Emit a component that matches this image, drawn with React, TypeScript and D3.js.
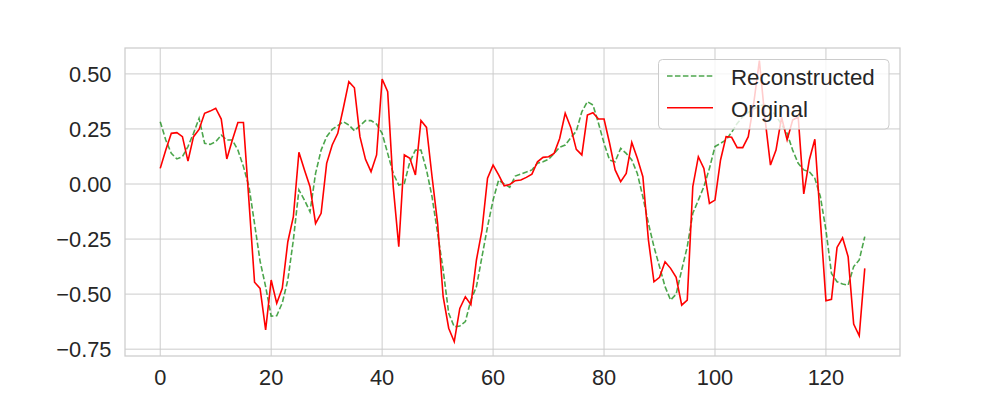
import React from "react";
import * as d3 from "d3";

const original: number[] = [
  0.071, 0.154, 0.23, 0.233, 0.215, 0.104, 0.215, 0.248, 0.321, 0.331,
  0.344, 0.295, 0.114, 0.2, 0.279, 0.279, -0.08, -0.446, -0.474, -0.663,
  -0.436, -0.542, -0.474, -0.262, -0.148, 0.144, 0.064, -0.012, -0.179, -0.133,
  0.094, 0.177, 0.23, 0.344, 0.465, 0.437, 0.215, 0.112, 0.056, 0.132,
  0.477, 0.419, -0.012, -0.285, 0.132, 0.117, 0.041, 0.288, 0.257, 0.033,
  -0.179, -0.512, -0.655, -0.716, -0.565, -0.512, -0.548, -0.345, -0.209, 0.026,
  0.086, 0.041, -0.008, -0.002, 0.015, 0.018, 0.03, 0.045, 0.101, 0.121,
  0.124, 0.139, 0.207, 0.321, 0.257, 0.157, 0.132, 0.313, 0.324, 0.295,
  0.295, 0.185, 0.064, 0.011, 0.048, 0.189, 0.117, 0.033, -0.254, -0.444,
  -0.424, -0.353, -0.383, -0.424, -0.55, -0.527, -0.012, 0.124, 0.071, -0.088,
  -0.073, 0.109, 0.215, 0.212, 0.165, 0.165, 0.215, 0.37, 0.56, 0.3,
  0.086, 0.154, 0.303, 0.2, 0.29, 0.305, -0.045, 0.109, 0.203, -0.165,
  -0.53, -0.524, -0.288, -0.244, -0.33, -0.636, -0.689, -0.383,
];

const reconstructed: number[] = [
  0.283, 0.2, 0.139, 0.114, 0.124, 0.17, 0.23, 0.298, 0.185, 0.18,
  0.192, 0.222, 0.2, 0.2, 0.154, 0.079, -0.012, -0.18, -0.35, -0.466,
  -0.6, -0.598, -0.54, -0.436, -0.254, -0.027, -0.073, -0.126, 0.048, 0.154,
  0.215, 0.248, 0.265, 0.283, 0.268, 0.242, 0.265, 0.288, 0.288, 0.272,
  0.23, 0.139, 0.048, -0.005, 0.003, 0.101, 0.154, 0.154, 0.064, -0.058,
  -0.224, -0.39, -0.587, -0.648, -0.645, -0.625, -0.527, -0.466, -0.33, -0.194,
  -0.073, 0.018, 0.0, -0.015, 0.036, 0.045, 0.054, 0.064, 0.094, 0.101,
  0.112, 0.139, 0.167, 0.177, 0.21, 0.24, 0.328, 0.374, 0.359, 0.276,
  0.185, 0.109, 0.101, 0.162, 0.139, 0.109, 0.048, -0.058, -0.179, -0.285,
  -0.375, -0.466, -0.527, -0.5, -0.39, -0.285, -0.133, -0.073, -0.012, 0.071,
  0.17, 0.185, 0.2, 0.235, 0.275, 0.305, 0.325, 0.34, 0.355, 0.36,
  0.34, 0.31, 0.27, 0.23, 0.154, 0.094, 0.064, 0.056, 0.026, -0.058,
  -0.209, -0.406, -0.444, -0.454, -0.459, -0.375, -0.345, -0.239,
];

const xTicks: number[] = [0, 20, 40, 60, 80, 100, 120];
const yTicks: number[] = [-0.75, -0.5, -0.25, 0, 0.25, 0.5];
const legendLabels: string[] = ["Reconstructed", "Original"];

const W = 1000;
const H = 400;
const left = 125;
const right = 900;
const top = 48;
const bottom = 356;
const FONT = "'Liberation Sans', Arial, sans-serif";
const TICK_FS = 21.8;
const LEG_FS = 22.3;

export default function App() {
  const n = original.length;
  const xs = d3.scaleLinear().domain([-(n - 1) * 0.05, (n - 1) * 1.05]).range([left, right]);
  const ys = d3.scaleLinear().domain([-0.781, 0.6176]).range([bottom, top]);

  const line = d3
    .line<number>()
    .x((_, i) => xs(i))
    .y((d) => ys(d));

  const fmt = (v: number) => {
    const s = d3.format(".2f")(Math.abs(v));
    return v < 0 ? "\u2212" + s : s;
  };

  const lx = 658.5;
  const ly = 59.5;
  const lw = 230.5;
  const lh = 69.5;

  return (
    <div style={{ position: "absolute", left: 0, top: 0 }}>
      <svg width={W} height={H} style={{ display: "block", background: "#fff" }}>
        <rect x={0} y={0} width={W} height={H} fill="#fff" />
        {xTicks.map((t) => (
          <line key={"gx" + t} x1={xs(t)} x2={xs(t)} y1={top} y2={bottom} stroke="#cccccc" strokeWidth={1} />
        ))}
        {yTicks.map((t) => (
          <line key={"gy" + t} x1={left} x2={right} y1={ys(t)} y2={ys(t)} stroke="#cccccc" strokeWidth={1} />
        ))}
        <path
          d={line(reconstructed) || ""}
          fill="none"
          stroke="green"
          strokeOpacity={0.7}
          strokeWidth={1.6}
          strokeDasharray="5.55 2.4"
        />
        <path d={line(original) || ""} fill="none" stroke="red" strokeWidth={1.6} />
        <rect x={left} y={top} width={right - left} height={bottom - top} fill="none" stroke="#cccccc" strokeWidth={1.25} />
        {xTicks.map((t) => (
          <text
            key={"tx" + t}
            x={xs(t)}
            y={bottom + 29.3}
            textAnchor="middle"
            fontFamily={FONT}
            fontSize={TICK_FS}
            fill="#262626"
          >
            {t}
          </text>
        ))}
        {yTicks.map((t) => (
          <text
            key={"ty" + t}
            x={left - 13.5}
            y={ys(t) + TICK_FS * 0.358}
            textAnchor="end"
            fontFamily={FONT}
            fontSize={TICK_FS}
            fill="#262626"
          >
            {fmt(t)}
          </text>
        ))}
        <rect x={lx} y={ly} width={lw} height={lh} rx={4} ry={4} fill="#fff" fillOpacity={0.8} stroke="#cccccc" strokeWidth={1} />
        <line x1={667} x2={713} y1={76} y2={76} stroke="green" strokeOpacity={0.7} strokeWidth={1.6} strokeDasharray="5.55 2.4" />
        <line x1={667} x2={713} y1={107.7} y2={107.7} stroke="red" strokeWidth={1.6} />
        {legendLabels.map((l, i) => (
          <text key={l} x={731} y={85 + i * 31.7} fontFamily={FONT} fontSize={LEG_FS} fill="#262626">
            {l}
          </text>
        ))}
      </svg>
    </div>
  );
}
